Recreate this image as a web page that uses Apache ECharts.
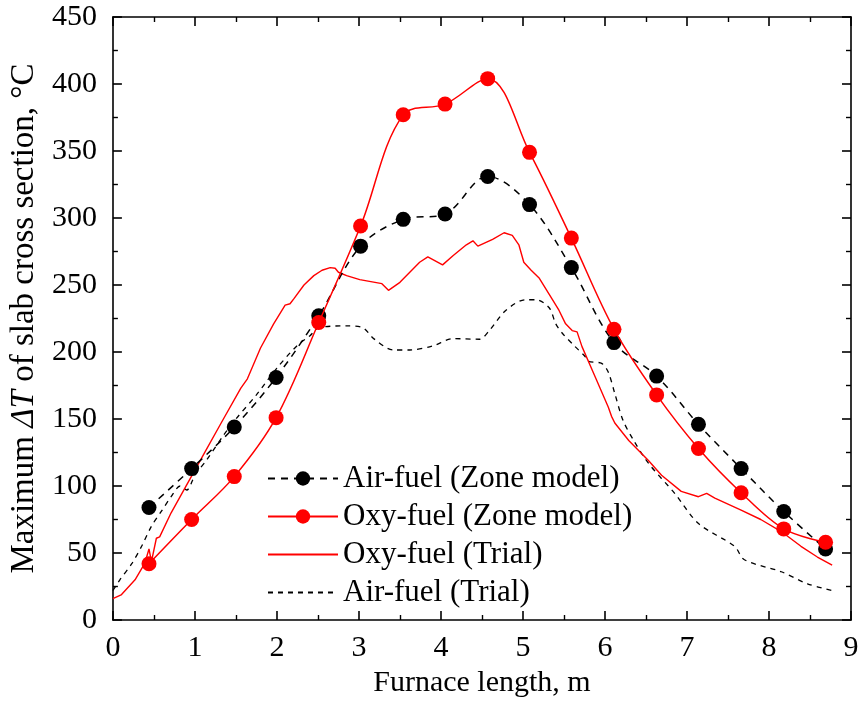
<!DOCTYPE html>
<html>
<head>
<meta charset="utf-8">
<script src="https://cdn.jsdelivr.net/npm/echarts@6/dist/echarts.min.js"></script>
<style>html,body{margin:0;padding:0;background:#fff}#c{width:864px;height:722px}</style>
</head>
<body>
<div id="c"></div>
<script>
// ---- data ----
var seriesNames = ['Air-fuel (Zone model)', 'Oxy-fuel (Zone model)', 'Oxy-fuel (Trial)', 'Air-fuel (Trial)'];
var zoneX = [0.44, 0.96, 1.48, 1.99, 2.51, 3.02, 3.54, 4.05, 4.57, 5.08, 5.59, 6.11, 6.63, 7.14, 7.66, 8.18, 8.69];
var airZone = [84, 113, 144, 181, 227, 279, 299, 303, 331, 310, 263, 207, 182, 146, 113, 81, 53];
var oxyZone = [42, 75, 107, 151, 222, 294, 377, 385, 404, 349, 285, 217, 168, 128, 95, 68, 58];

var oxyTrialX = [0, 0.1, 0.27, 0.39, 0.44, 0.47, 0.53, 0.57, 0.71, 0.91, 1.11, 1.32, 1.56, 1.64, 1.80, 1.96, 2.10, 2.16, 2.21, 2.33, 2.45, 2.55, 2.65, 2.71, 2.75, 2.85, 3.01, 3.28, 3.36, 3.50, 3.74, 3.84, 4.02, 4.15, 4.31, 4.39, 4.45, 4.63, 4.77, 4.87, 4.95, 5.01, 5.10, 5.20, 5.36, 5.44, 5.52, 5.60, 5.66, 5.72, 5.88, 6.04, 6.08, 6.12, 6.29, 6.53, 6.69, 6.93, 7.14, 7.24, 7.34, 7.66, 7.90, 8.15, 8.39, 8.59, 8.77];
var oxyTrialY = [16, 18.7, 30, 42.5, 53, 43.5, 61, 62, 80, 102, 124, 147, 173, 180, 203, 221, 235, 236, 240, 250, 257, 261, 263, 262.5, 259.5, 257, 254, 251, 246, 252, 267, 271, 265, 272, 280, 283, 279, 284, 289, 287, 280, 267, 261, 255, 239, 231, 221, 216, 215, 204, 181.5, 159, 152, 147, 134, 119, 108, 96, 92, 94.5, 91, 82, 75, 66, 55, 47, 41];

var airTrialX = [0, 0.085, 0.23, 0.35, 0.47, 0.59, 0.71, 0.82, 0.9, 1.0, 1.15, 1.35, 1.5, 1.75, 2.0, 2.25, 2.4, 2.51, 2.85, 3.05, 3.18, 3.42, 3.62, 3.90, 4.15, 4.47, 4.59, 4.79, 5.03, 5.16, 5.32, 5.40, 5.48, 5.62, 5.76, 5.80, 5.96, 6.04, 6.12, 6.22, 6.35, 6.53, 6.85, 7.14, 7.58, 7.70, 8.15, 8.47, 8.77];
var airTrialY = [22, 30, 42, 55, 70, 81, 92, 100, 97, 108, 120, 138, 150, 168, 188, 205, 212, 218, 219.5, 218, 210, 201.5, 201.5, 204.5, 210, 209.5, 216, 231, 239, 239, 233, 221, 214, 205, 196.5, 193, 191.5, 185, 169, 149, 134, 117, 94.5, 72, 55, 45, 36, 27, 22];

var xTicks = [0, 9, 1];   // min, max, interval
var yTicks = [0, 450, 50];

function pairs(xs, ys) { return xs.map(function (x, i) { return [x, ys[i]]; }); }

var FONT = 'Liberation Serif';
var RED = '#ff0000';
var BLACK = '#000000';

function axisCommon(showLabel) {
  return {
    axisLine: { show: true, onZero: false, lineStyle: { color: BLACK, width: 1.6 } },
    axisTick: { show: true, inside: true, length: 9, lineStyle: { color: BLACK, width: 1.6 } },
    minorTick: { show: true, splitNumber: 2, length: 5, lineStyle: { color: BLACK, width: 1.4 } },
    splitLine: { show: false },
    axisLabel: { show: showLabel, color: BLACK, fontFamily: FONT, fontSize: 30 }
  };
}

var xMain = Object.assign(axisCommon(true), {
  type: 'value', position: 'bottom', min: xTicks[0], max: xTicks[1], interval: xTicks[2],
  name: 'Furnace length, m', nameLocation: 'middle', nameGap: 32,
  nameTextStyle: { color: BLACK, fontFamily: FONT, fontSize: 30 }
});
xMain.axisLabel.margin = 13;
var xTop = Object.assign(axisCommon(false), {
  type: 'value', position: 'top', min: xTicks[0], max: xTicks[1], interval: xTicks[2]
});
var yMain = Object.assign(axisCommon(true), {
  type: 'value', position: 'left', min: yTicks[0], max: yTicks[1], interval: yTicks[2],
  name: 'Maximum {i|ΔT} of slab cross section, °C', nameLocation: 'middle', nameGap: 70,
  nameTextStyle: { color: BLACK, fontFamily: FONT, fontSize: 33,
    rich: { i: { fontStyle: 'italic', fontFamily: FONT, fontSize: 33, color: BLACK } } }
});
yMain.axisLabel.margin = 16;
var yRight = Object.assign(axisCommon(false), {
  type: 'value', position: 'right', min: yTicks[0], max: yTicks[1], interval: yTicks[2]
});

var noSymbol = { color: 'rgba(0,0,0,0)', borderWidth: 0 };

var option = {
  animation: false,
  backgroundColor: '#ffffff',
  grid: { left: 107, right: 13, top: 17, bottom: 102, containLabel: false },
  xAxis: [xMain, xTop],
  yAxis: [yMain, yRight],
  legend: {
    left: 262, top: 458, orient: 'vertical',
    itemWidth: 70, itemHeight: 18, itemGap: 7,
    data: [
      { name: seriesNames[0] },
      { name: seriesNames[1] },
      { name: seriesNames[2], itemStyle: noSymbol },
      { name: seriesNames[3], itemStyle: noSymbol }
    ],
    textStyle: { color: BLACK, fontFamily: FONT, fontSize: 31, lineHeight: 31 }
  },
  series: [
    {
      name: seriesNames[0], type: 'line', xAxisIndex: 0, yAxisIndex: 0, z: 4,
      data: pairs(zoneX, airZone), smooth: 0.35,
      symbol: 'circle', symbolSize: 15,
      lineStyle: { color: BLACK, width: 1.5, type: [7, 6] },
      itemStyle: { color: BLACK }
    },
    {
      name: seriesNames[1], type: 'line', xAxisIndex: 0, yAxisIndex: 0, z: 5,
      data: pairs(zoneX, oxyZone), smooth: 0.35,
      symbol: 'circle', symbolSize: 15,
      lineStyle: { color: RED, width: 1.5 },
      itemStyle: { color: RED }
    },
    {
      name: seriesNames[2], type: 'line', xAxisIndex: 0, yAxisIndex: 0, z: 3,
      data: pairs(oxyTrialX, oxyTrialY), symbol: 'none', smooth: false,
      lineStyle: { color: RED, width: 1.4 },
      itemStyle: { color: RED }
    },
    {
      name: seriesNames[3], type: 'line', xAxisIndex: 0, yAxisIndex: 0, z: 2,
      data: pairs(airTrialX, airTrialY), symbol: 'none', smooth: 0.3,
      lineStyle: { color: BLACK, width: 1.3, type: [5, 5] },
      itemStyle: { color: BLACK }
    }
  ]
};

var chart = echarts.init(document.getElementById('c'), null, { renderer: 'canvas' });
chart.setOption(option);
</script>
</body>
</html>
